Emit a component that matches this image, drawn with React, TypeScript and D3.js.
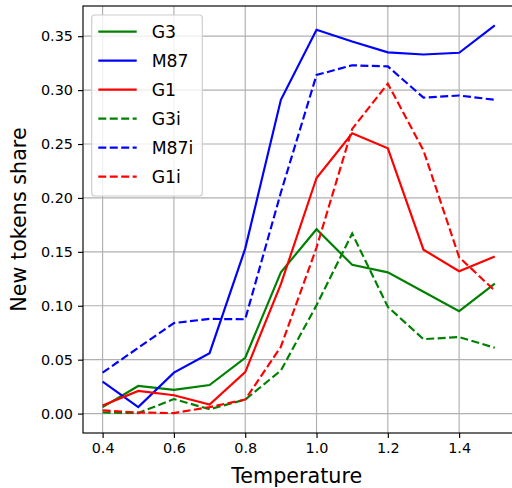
import React, { useRef, useEffect } from 'react';
import * as d3 from 'd3';

// temperatures on x
const temperatures = [0.4, 0.5, 0.6, 0.7, 0.8, 0.9, 1.0, 1.1, 1.2, 1.3, 1.4, 1.5];

// series values
const g3 = [0.006, 0.0256, 0.022, 0.0265, 0.0518, 0.131, 0.171, 0.138, 0.131, 0.113, 0.095, 0.1205];
const m87 = [0.0296, 0.006, 0.038, 0.056, 0.153, 0.291, 0.356, 0.345, 0.335, 0.333, 0.3346, 0.36];
const g1 = [0.0074, 0.021, 0.017, 0.0083, 0.0385, 0.12, 0.2185, 0.26, 0.246, 0.152, 0.132, 0.1457];
const g3i = [0.001, 0.0005, 0.0135, 0.004, 0.013, 0.04, 0.1005, 0.167, 0.099, 0.069, 0.071, 0.061];
const m87i = [0.038, 0.061, 0.084, 0.0878, 0.0875, 0.205, 0.314, 0.323, 0.322, 0.293, 0.295, 0.291];
const g1i = [0.003, 0.001, 0.0005, 0.006, 0.013, 0.062, 0.154, 0.264, 0.306, 0.244, 0.145, 0.114];

const seriesNames = ['G3', 'M87', 'G1', 'G3i', 'M87i', 'G1i'];
const seriesValues = [g3, m87, g1, g3i, m87i, g1i];
const seriesColors = ['#008000', '#0000ff', '#ff0000', '#008000', '#0000ff', '#ff0000'];
const seriesDashed = [false, false, false, true, true, true];

const xTicks = [0.4, 0.6, 0.8, 1.0, 1.2, 1.4];
const yTicks = [0, 0.05, 0.1, 0.15, 0.2, 0.25, 0.3, 0.35];

const W = 512;
const H = 488;
const FONT = '"DejaVu Sans", sans-serif';

export default function App() {
  const svgRef = useRef<SVGSVGElement>(null);

  useEffect(() => {
    const svg = d3.select(svgRef.current);
    svg.selectAll('*').remove();

    // plot area (right spine sits just past the image edge)
    const left = 83, right = 514.4, top = 6, bottom = 433;

    // matplotlib-like 5% margins
    const xExt = d3.extent(temperatures) as [number, number];
    const xPad = (xExt[1] - xExt[0]) * 0.05;
    const allY = seriesValues.flat();
    const yMin = Math.min(0, d3.min(allY)!);
    const yMax = d3.max(allY)!;
    const yPad = (yMax - yMin) * 0.05;

    const x = d3.scaleLinear().domain([xExt[0] - xPad, xExt[1] + xPad]).range([left, right]);
    const y = d3.scaleLinear().domain([yMin - yPad, yMax + yPad]).range([bottom, top]);

    svg.append('rect').attr('width', W).attr('height', H).attr('fill', '#fff');

    // grid
    const grid = svg.append('g').attr('stroke', '#b0b0b0').attr('stroke-width', 1.15);
    xTicks.forEach(t => {
      grid.append('line').attr('x1', x(t)).attr('x2', x(t)).attr('y1', top).attr('y2', bottom);
    });
    yTicks.forEach(t => {
      grid.append('line').attr('x1', left).attr('x2', right).attr('y1', y(t)).attr('y2', y(t));
    });

    // lines
    const line = d3.line<number>()
      .x((_, i) => x(temperatures[i]))
      .y(d => y(d));

    seriesValues.forEach((vals, i) => {
      svg.append('path')
        .datum(vals)
        .attr('d', line)
        .attr('fill', 'none')
        .attr('stroke', seriesColors[i])
        .attr('stroke-width', 2.16)
        .attr('stroke-dasharray', seriesDashed[i] ? '8,3.45' : null);
    });

    // axes
    const xAxis = svg.append('g')
      .attr('transform', `translate(0,${bottom})`)
      .call(d3.axisBottom(x).tickValues(xTicks).tickFormat(d3.format('.1f')).tickSize(5).tickPadding(5));
    const yAxis = svg.append('g')
      .attr('transform', `translate(${left},0)`)
      .call(d3.axisLeft(y).tickValues(yTicks).tickFormat(d3.format('.2f')).tickSize(5).tickPadding(5));

    [xAxis, yAxis].forEach(a => {
      a.select('.domain').remove();
      a.selectAll('line').attr('stroke', '#000').attr('stroke-width', 1.15);
      a.selectAll('text')
        .attr('font-family', FONT)
        .attr('font-size', 14.4)
        .attr('fill', '#000');
    });

    // spines
    svg.append('rect')
      .attr('x', left).attr('y', top)
      .attr('width', right - left).attr('height', bottom - top)
      .attr('fill', 'none').attr('stroke', '#000').attr('stroke-width', 1.15);

    // axis labels
    svg.append('text')
      .attr('x', (left + right) / 2 - 2)
      .attr('y', 483)
      .attr('text-anchor', 'middle')
      .attr('font-family', FONT)
      .attr('font-size', 20.7)
      .text('Temperature');

    svg.append('text')
      .attr('transform', `translate(26,${(top + bottom) / 2}) rotate(-90)`)
      .attr('text-anchor', 'middle')
      .attr('font-family', FONT)
      .attr('font-size', 20.7)
      .text('New tokens share');

    // legend
    const lg = svg.append('g');
    lg.append('rect')
      .attr('x', 91.7).attr('y', 15)
      .attr('width', 110.6).attr('height', 181)
      .attr('rx', 3)
      .attr('fill', '#fff').attr('fill-opacity', 0.8)
      .attr('stroke', '#cccccc').attr('stroke-width', 1.15);

    seriesNames.forEach((name, i) => {
      const cy = 31.7 + i * 29;
      lg.append('line')
        .attr('x1', 98.3).attr('x2', 136.7)
        .attr('y1', cy).attr('y2', cy)
        .attr('stroke', seriesColors[i])
        .attr('stroke-width', 2.16)
        .attr('stroke-dasharray', seriesDashed[i] ? '8,3.45' : null);
      lg.append('text')
        .attr('x', 151.7).attr('y', cy)
        .attr('dy', '0.36em')
        .attr('font-family', FONT)
        .attr('font-size', 17.3)
        .text(name);
    });
  }, []);

  return (
    <svg
      ref={svgRef}
      width={W}
      height={H}
      style={{ position: 'absolute', left: 0, top: 0, display: 'block' }}
    />
  );
}
